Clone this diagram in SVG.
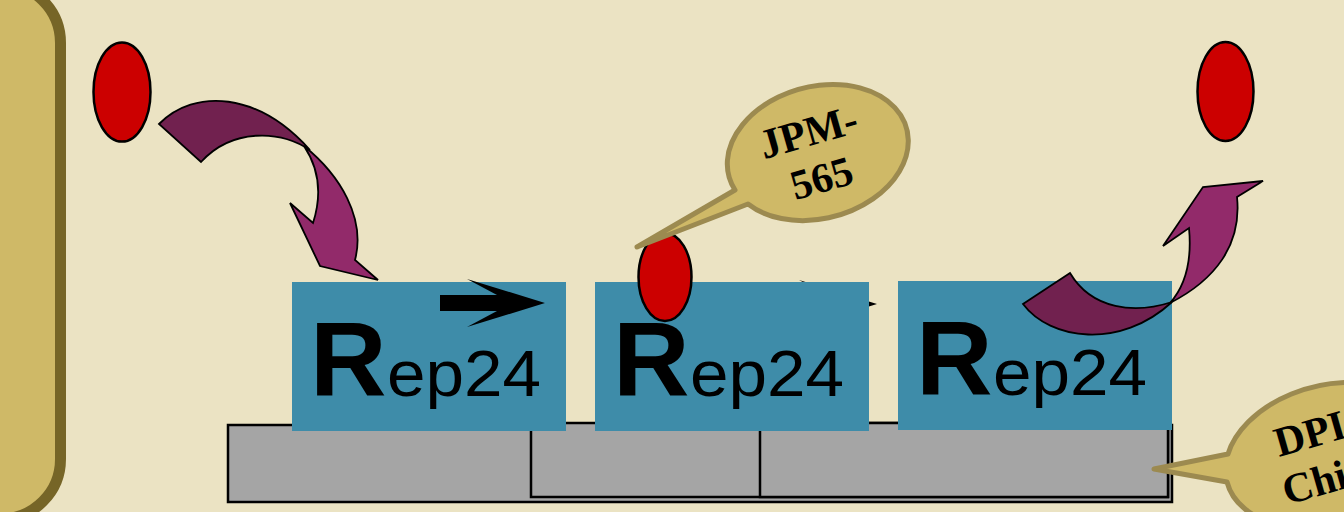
<svg xmlns="http://www.w3.org/2000/svg" width="1344" height="512" viewBox="0 0 1344 512">
  <defs>
    <style>
      .panel { fill: #CFB967; stroke: #766527; stroke-width: 11; }
      .base { fill: #A5A5A5; stroke: #000; stroke-width: 2.5; }
      .box { fill: #3E8CA9; }
      .big { font-family: "Liberation Sans", Arial, sans-serif; font-weight: bold; font-size: 106px; fill: #000; }
      .small { font-family: "Liberation Sans", Arial, sans-serif; font-size: 64px; fill: #000; }
      .dot { fill: #CC0000; stroke: #000; stroke-width: 2.5; }
      .front { fill: #922A6A; stroke: #000; stroke-width: 1.8; stroke-linejoin: miter; }
      .back { fill: #71214F; stroke: #000; stroke-width: 1.8; }
      .bubble { fill: #CFB967; stroke: #9C8A50; stroke-width: 5; stroke-linejoin: round; }
      .blabel { font-family: "Liberation Serif", "Times New Roman", serif; font-weight: bold; font-size: 42px; fill: #000; }
    </style>
  </defs>

  <!-- background -->
  <rect x="0" y="0" width="1344" height="512" fill="#EBE3C3"/>

  <!-- side panel -->
  <rect class="panel" x="-100" y="-17" width="160.5" height="536" rx="60" ry="60"/>

  <!-- grey base strips -->
  <g id="base">
    <rect class="base" x="228" y="425" width="944" height="77"/>
    <rect class="base" x="531" y="423" width="637" height="74"/>
    <rect class="base" x="760" y="423" width="408" height="74"/>
  </g>

  <!-- direction arrow mostly hidden behind the second block -->
  <polygon points="772,296 829,296 799,280 877,304 799,328 829,312 772,312" fill="#000"/>

  <g id="rep1">
    <rect class="box" x="292" y="282" width="274" height="149"/>
    <text class="big" x="310" y="396">R</text>
    <text class="small" x="387" y="396" textLength="154" lengthAdjust="spacingAndGlyphs">ep24</text>
    <polygon points="440,295 497,295 467,279 545,303 467,327 497,311 440,311" fill="#000"/>
  </g>

  <g id="rep2">
    <rect class="box" x="595" y="282" width="274" height="149"/>
    <text class="big" x="613" y="396">R</text>
    <text class="small" x="690" y="396" textLength="154" lengthAdjust="spacingAndGlyphs">ep24</text>
  </g>

  <g id="rep3">
    <rect class="box" x="898" y="281" width="274" height="149"/>
    <text class="big" x="916" y="395">R</text>
    <text class="small" x="993" y="395" textLength="154" lengthAdjust="spacingAndGlyphs">ep24</text>
  </g>

  <!-- ligand molecules -->
  <g id="ligand1"><ellipse class="dot" cx="122" cy="92" rx="28.5" ry="49.5"/></g>
  <g id="ligand2"><ellipse class="dot" cx="665" cy="277" rx="26.5" ry="44"/></g>
  <g id="ligand3"><ellipse class="dot" cx="1225.5" cy="91.5" rx="28" ry="49.5"/></g>

  <!-- curved ribbon arrows -->
  <g id="connectors">
    <g id="arrow-in">
      <path class="back" d="M159,124 C195,88 258,92 310,150 C280,130 232,128 201,162 Z"/>
      <path class="front" d="M304,146 C340,175 366,218 355,260 L378,280 L320,266 L290,203 L313,223 C322,195 320,170 304,146 Z"/>
    </g>
    <g id="arrow-out">
      <path class="back" d="M1023,304 C1050,340 1120,350 1172,302 C1135,314 1092,310 1070,273 Z"/>
      <path class="front" d="M1170,303 C1215,280 1242,245 1237,197 L1263,181 L1203,187 L1163,246 L1189,228 C1192,260 1186,285 1170,303 Z"/>
    </g>
  </g>

  <!-- callout: compound name -->
  <g id="callout-jpm">
    <path class="bubble" d="M637,247 L735,190 A92,66 -15 1 1 748,204 Z"/>
    <g transform="rotate(-16 815 155)">
      <text class="blabel" x="815" y="145" text-anchor="middle">JPM-</text>
      <text class="blabel" x="815" y="193" text-anchor="middle">565</text>
    </g>
  </g>

  <!-- callout: array label -->
  <g id="callout-dpi">
    <path class="bubble" d="M1154,469 L1228,454 A105,70 -15 1 1 1227,482 Z"/>
    <text class="blabel" transform="translate(1279 457) rotate(-16)">DPI</text>
    <text class="blabel" transform="translate(1287 505) rotate(-16)">Chi</text>
  </g>
</svg>
